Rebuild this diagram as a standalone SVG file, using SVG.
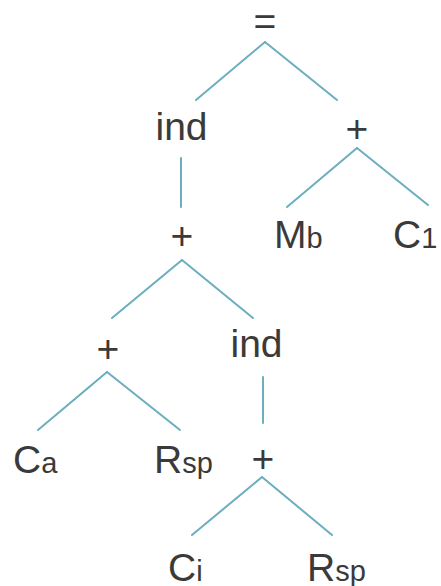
<svg xmlns="http://www.w3.org/2000/svg" width="441" height="586" viewBox="0 0 441 586">
<style>
text{font-family:"Liberation Sans",Arial,sans-serif;font-size:39px;fill:#3a3a3a}
.s{font-size:29px}
.m{text-anchor:middle}
#edges line{stroke:#6aaebf;stroke-width:2;stroke-linecap:round}
</style>
<rect width="441" height="586" fill="#fff"/>
<g id="edges">
<line x1="265" y1="42" x2="196" y2="100"/>
<line x1="265" y1="42" x2="337" y2="100"/>
<line x1="181" y1="158" x2="181" y2="207"/>
<line x1="357" y1="148" x2="287" y2="207"/>
<line x1="357" y1="148" x2="428" y2="205"/>
<line x1="182" y1="260" x2="112" y2="318"/>
<line x1="182" y1="260" x2="253" y2="318"/>
<line x1="107" y1="372" x2="38" y2="430"/>
<line x1="107" y1="372" x2="180" y2="430"/>
<line x1="263" y1="377" x2="263" y2="423"/>
<line x1="262" y1="477" x2="192" y2="535"/>
<line x1="262" y1="477" x2="332" y2="535"/>
</g>
<g id="n-eq"><text class="m" x="265" y="35">=</text></g>
<g id="n-ind1"><text class="m" x="181.5" y="140">ind</text></g>
<g id="n-plus1"><text class="m" x="357" y="142">+</text></g>
<g id="n-plus2"><text class="m" x="182" y="249">+</text></g>
<g id="n-mb"><text x="274" y="248">M<tspan class="s">b</tspan></text></g>
<g id="n-c1"><text x="393" y="248">C<tspan class="s">1</tspan></text></g>
<g id="n-plus3"><text class="m" x="108" y="362">+</text></g>
<g id="n-ind2"><text class="m" x="256.5" y="357">ind</text></g>
<g id="n-ca"><text x="13" y="473">C<tspan class="s">a</tspan></text></g>
<g id="n-rsp1"><text x="154" y="473">R<tspan class="s">sp</tspan></text></g>
<g id="n-plus4"><text class="m" x="263" y="472">+</text></g>
<g id="n-ci"><text x="168" y="581">C<tspan class="s">i</tspan></text></g>
<g id="n-rsp2"><text x="307" y="581">R<tspan class="s">sp</tspan></text></g>
</svg>
